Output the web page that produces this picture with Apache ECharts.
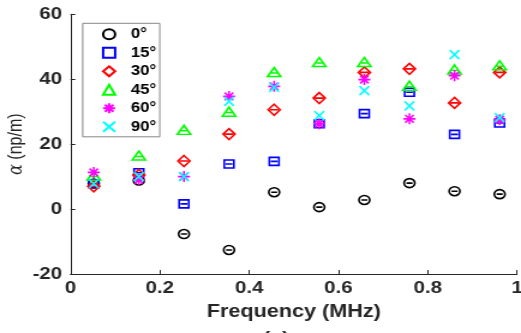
<!DOCTYPE html>
<html><head><meta charset="utf-8">
<script src="https://cdn.jsdelivr.net/npm/echarts@6/dist/echarts.min.js"></script>
<style>html,body{margin:0;padding:0;background:#fff;overflow:hidden}
#c{width:434px;height:333px;transform:scaleX(1.2005);transform-origin:0 0}</style>
</head><body><div id="c"></div>
<script>
var freq = [0.052, 0.153, 0.254, 0.355, 0.456, 0.557, 0.658, 0.759, 0.86, 0.961];
var seriesNames = ['0°', '15°', '30°', '45°', '60°', '90°'];
var a0  = [7.9, 8.8, -7.7, -12.6, 5.2, 0.6, 2.8, 8.0, 5.5, 4.6];
var a15 = [7.8, 11.2, 1.6, 13.9, 14.7, 26.3, 29.4, 36.0, 23.0, 26.5];
var a30 = [7.0, 10.5, 14.8, 23.1, 30.6, 34.2, 42.1, 43.2, 32.7, 42.1];
var a45 = [10.3, 16.5, 24.4, 30.0, 42.2, 45.3, 45.3, 38.0, 43.0, 44.3];
var a60 = [11.3, 9.0, 10.0, 34.7, 37.8, 26.3, 39.9, 27.8, 41.1, 27.5];
var a90 = [7.8, 10.0, 10.0, 33.2, 37.5, 28.8, 36.5, 31.8, 47.6, 28.2];
var xTicks = [0, 0.2, 0.4, 0.6, 0.8, 1];
var yTicks = [-20, 0, 20, 40, 60];

var colors = ['#000000', '#0000ff', '#ff0000', '#00ff00', '#ff00ff', '#00ffff'];
var dataSym = [
  'path://M0,50 A50,50 0 1,1 100,50 A50,50 0 1,1 0,50 Z M22,50 L78,50',
  'path://M0,0 L100,0 L100,100 L0,100 Z M15,50 L85,50',
  'path://M50,0 L100,50 L50,100 L0,50 Z M15,50 L85,50',
  'path://M50,0 L100,100 L0,100 Z M28,60 L72,60',
  'path://M50,0 L50,100 M0,50 L100,50 M15,15 L85,85 M85,15 L15,85',
  'path://M0,0 L100,100 M100,0 L0,100'
];
var legSym = [
  'path://M0,50 A50,50 0 1,1 100,50 A50,50 0 1,1 0,50 Z',
  'path://M0,0 L100,0 L100,100 L0,100 Z',
  'path://M50,0 L100,50 L50,100 L0,50 Z',
  'path://M50,0 L100,100 L0,100 Z',
  'path://M50,0 L50,100 M0,50 L100,50 M15,15 L85,85 M85,15 L15,85',
  'path://M0,0 L100,100 M100,0 L0,100'
];
var sizes = [[9, 9], [8, 8], [10, 11], [11, 9], [10, 11], [8, 9]];
var vals = [a0, a15, a30, a45, a60, a90];

var series = vals.map(function (v, i) {
  return {
    name: seriesNames[i], type: 'scatter',
    data: v.map(function (y, k) { return [freq[k], y]; }),
    symbol: dataSym[i], symbolSize: sizes[i],
    itemStyle: { color: 'rgba(0,0,0,0)', borderColor: colors[i], borderWidth: 1.6, opacity: 1 },
    emphasis: { disabled: true }, z: 2 + i
  };
});

var chart = echarts.init(document.getElementById('c'), null, { renderer: 'canvas' });
chart.setOption({
  animation: false,
  backgroundColor: '#ffffff',
  textStyle: { fontFamily: 'Liberation Sans, Arial, sans-serif' },
  grid: { left: 58.75, right: 3.3, top: 14.3, bottom: 59, containLabel: false, outerBoundsMode: 'none' },
  legend: {
    orient: 'vertical', left: 68.9, top: 23.3,
    padding: [4, 3, 3, 16], itemGap: 4.5, itemWidth: 12, itemHeight: 10,
    borderColor: '#888888', borderWidth: 1, backgroundColor: '#ffffff',
    selectedMode: false,
    textStyle: { fontSize: 14, fontWeight: 'bold', color: '#000', lineHeight: 14, padding: [0, 0, 0, 7] },
    data: seriesNames.map(function (n, i) { return { name: n, icon: legSym[i] }; })
  },
  xAxis: {
    type: 'value', min: xTicks[0], max: xTicks[xTicks.length - 1], interval: 0.2,
    name: 'Frequency (MHz)', nameLocation: 'middle', nameGap: 29, nameMoveOverlap: false,
    nameTextStyle: { fontSize: 18, fontWeight: 'bold', color: '#262626' },
    axisLine: { show: true, onZero: false, lineStyle: { color: '#262626', width: 1 } },
    axisTick: { show: true, inside: true, length: 4, lineStyle: { color: '#262626' } },
    axisLabel: { fontSize: 17, fontWeight: 'bold', color: '#262626', margin: 6 },
    splitLine: { show: false }
  },
  yAxis: {
    type: 'value', min: yTicks[0], max: yTicks[yTicks.length - 1], interval: 20,
    name: '{a|α} (np/m)', nameLocation: 'middle', nameGap: 37, nameRotate: 90, nameMoveOverlap: false,
    nameTextStyle: { fontSize: 16, color: '#262626',
      rich: { a: { fontFamily: 'DejaVu Serif, serif', fontStyle: 'italic', fontSize: 16, color: '#262626' } } },
    axisLine: { show: true, onZero: false, lineStyle: { color: '#262626', width: 1 } },
    axisTick: { show: true, inside: true, length: 4, lineStyle: { color: '#262626' } },
    axisLabel: { fontSize: 17, fontWeight: 'bold', color: '#262626', margin: 7 },
    splitLine: { show: false }
  },
  graphic: [{
    type: 'text', left: 219, top: 330,
    style: { text: '(a)', font: 'bold 18px Liberation Sans, Arial, sans-serif', fill: '#262626' }
  }],
  series: series
});
</script></body></html>
